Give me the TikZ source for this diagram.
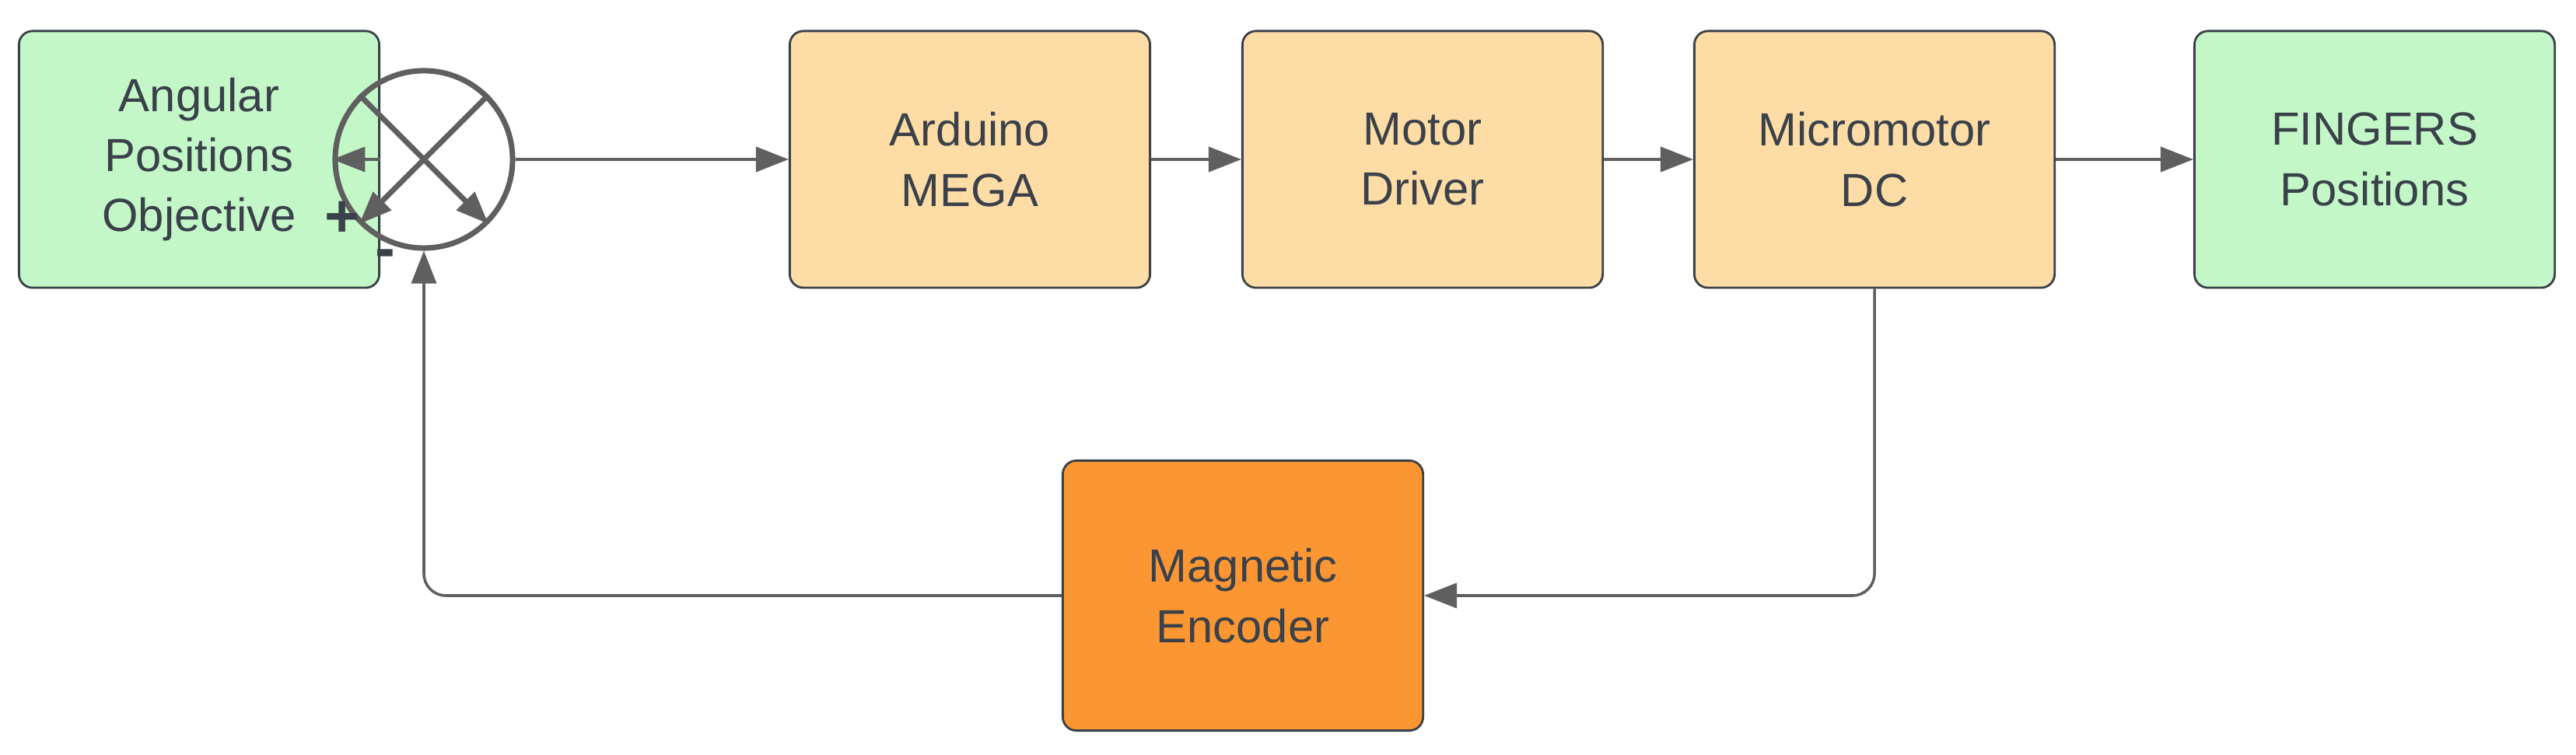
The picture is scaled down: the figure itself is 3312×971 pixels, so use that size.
\documentclass[tikz,border=0pt]{standalone}
\usepackage{fontspec}
\setmainfont{Liberation Sans}
\usetikzlibrary{arrows.meta,positioning}
\definecolor{txt}{HTML}{3A414A}
\definecolor{lnk}{HTML}{5F5F5F}
\definecolor{goal}{HTML}{C3F7C8}
\definecolor{ctrl}{HTML}{FDDCA5}
\definecolor{enc}{HTML}{FB9633}
\tikzset{
  blk/.style={draw=txt, line width=0.8pt, rounded corners=5pt, minimum width=4.63cm,
    minimum height=3.3cm, align=center, text=txt, font=\fontsize{17}{22}\selectfont},
  lnk/.style={draw=lnk, line width=1pt, -{Triangle[length=0.42cm,width=0.32cm]}},
}
\begin{document}
\begin{tikzpicture}[x=0.01cm, y=-0.01cm]
\useasboundingbox (0,0) rectangle (3312,971);
\node[blk, fill=goal] (goal) at (256,205) {Angular\\Positions\\Objective};
\node[draw=lnk, line width=2pt, circle, minimum size=2.28cm, inner sep=0pt] (sum) at (545,205) {};
\draw[lnk, line width=2pt] (sum.north west) -- (sum.south east);
\draw[lnk, line width=2pt] (sum.north east) -- (sum.south west);
\node[blk, fill=ctrl] (mega) at (1247,205) {Arduino\\MEGA};
\node[blk, fill=ctrl] (drv) at (1829,205) {Motor\\Driver};
\node[blk, fill=ctrl] (motor) at (2410,205) {Micromotor\\DC};
\node[blk, fill=goal] (fing) at (3053,205) {FINGERS\\Positions};
\node[blk, fill=enc, minimum height=3.47cm] (enc) at (1598,766) {Magnetic\\Encoder};
\node[text=txt, font=\fontsize{22}{22}\selectfont\bfseries] (plus) at (440,282) {+};
\node[text=txt, font=\fontsize{22}{22}\selectfont\bfseries] (minus) at (495,333) {-};
% forward path
\draw[lnk] (goal) -- (sum);
\draw[lnk] (sum) -- (mega);
\draw[lnk] (mega) -- (drv);
\draw[lnk] (drv) -- (motor);
\draw[lnk] (motor) -- (fing);
% feedback
\draw[lnk, rounded corners=8pt] (motor.south) |- (enc.east);
\draw[lnk, rounded corners=8pt] (enc.west) -| (sum.south);
\end{tikzpicture}
\end{document}
